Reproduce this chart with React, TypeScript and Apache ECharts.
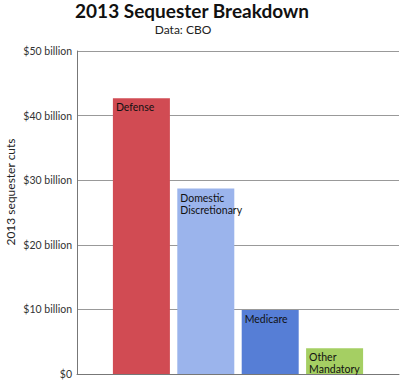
import React, { useEffect, useRef } from "react";
import * as echarts from "echarts";

const categories = ["", "Defense", "Domestic\nDiscretionary", "Medicare", "Other\nMandatory", ""];
const values: (number | null)[] = [null, 42.7, 28.7, 9.9, 4.0, null];
const colors = ["#ffffff", "#d14b53", "#9bb4ec", "#567ed6", "#a5cf63", "#ffffff"];
const yTicks = [0, 10, 20, 30, 40, 50];

export default function App() {
  const ref = useRef<HTMLDivElement>(null);
  useEffect(() => {
    const chart = echarts.init(ref.current!, null, { renderer: "svg" });
    chart.setOption({
      animation: false,
      backgroundColor: "#ffffff",
      title: [
        {
          text: "2013 Sequester Breakdown",
          left: 192,
          textAlign: "center",
          top: 1,
          padding: 0,
          textStyle: { fontFamily: "Lato", fontWeight: "bold", fontSize: 19, color: "#111" },
        },
        {
          text: "Data: CBO",
          left: 183,
          textAlign: "center",
          top: 23,
          padding: 0,
          textStyle: { fontFamily: "Lato", fontWeight: "normal", fontSize: 12, color: "#222" },
        },
      ],
      graphic: [
        {
          type: "text",
          x: 4,
          y: 192,
          rotation: Math.PI / 2,
          style: {
            text: "2013 sequester cuts",
            fontFamily: "Lato",
            fontSize: 12,
            fill: "#222",
            textAlign: "center",
            textVerticalAlign: "top",
          },
        },
      ],
      grid: { left: 77, right: 1, top: 51, bottom: 7 },
      xAxis: {
        type: "category",
        data: categories,
        boundaryGap: false,
        axisLine: { show: true, lineStyle: { color: "#777", width: 1 } },
        axisTick: { show: false },
        axisLabel: { show: false },
        splitLine: { show: false },
      },
      yAxis: {
        type: "value",
        min: yTicks[0],
        max: yTicks[yTicks.length - 1],
        interval: 10,
        axisLine: { show: true, lineStyle: { color: "#777", width: 1 } },
        axisTick: { show: false },
        splitLine: { show: true, lineStyle: { color: "#999", width: 1 } },
        axisLabel: {
          margin: 5,
          fontFamily: "Lato",
          fontSize: 10.5,
          color: "#333",
          formatter: (v: number) => (v === 0 ? "$0" : `$${v} billion`),
        },
      },
      series: [
        {
          type: "bar",
          barWidth: 57,
          data: values.map((v, i) => ({ value: v, itemStyle: { color: colors[i] } })),
          label: {
            show: true,
            position: "insideTopLeft",
            distance: 3,
            formatter: (p: any) => categories[p.dataIndex],
            fontFamily: "Lato",
            fontSize: 10.5,
            lineHeight: 12,
            color: "#111",
          },
        },
      ],
    });
    return () => chart.dispose();
  }, []);
  return <div ref={ref} style={{ width: 400, height: 381, position: "absolute", left: 0, top: 0 }} />;
}
